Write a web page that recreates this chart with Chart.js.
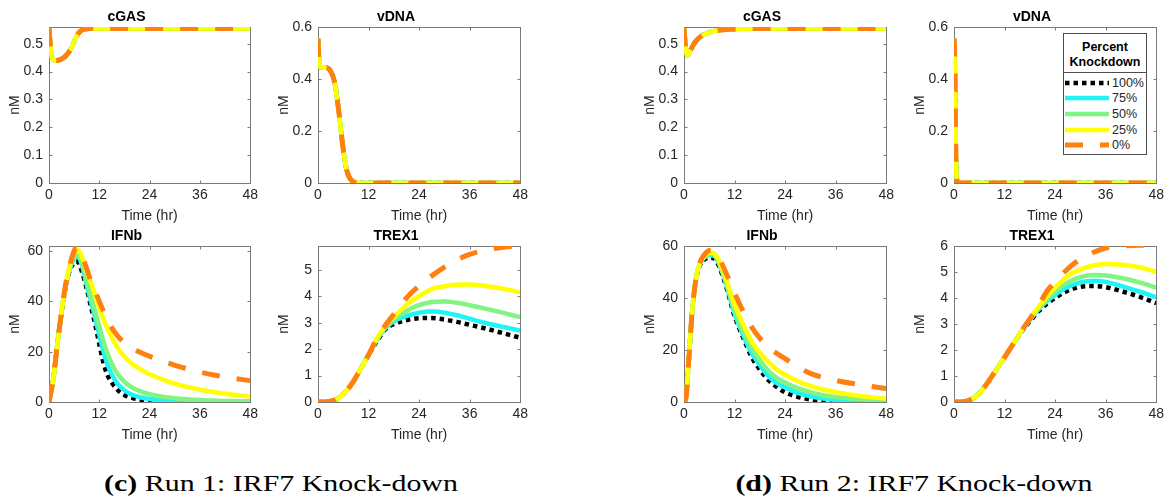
<!DOCTYPE html>
<html>
<head>
<meta charset="utf-8">
<title>IRF7 Knock-down</title>
<script src="https://cdn.jsdelivr.net/npm/chart.js@4.4.1/dist/chart.umd.min.js"></script>
<style>
  body { margin: 0; background: #fff; width: 1169px; height: 500px; position: relative; overflow: hidden;
         font-family: "Liberation Sans", Arial, sans-serif; }
  canvas { position: absolute; }
  .caption { position: absolute; top: 471px; font-family: "Liberation Serif", serif; font-size: 23px; color: #000;
             white-space: nowrap; transform: translateX(-50%) scaleX(1.3); }
  .caption b { font-weight: bold; }
  #legend { position: absolute; left: 1063px; top: 33px; width: 84px; height: 122px; background: #fff;
            border: 1px solid #4d4d4d; box-sizing: border-box; font-size: 12.5px; color: #262626; }
  #legend .ltitle { font-weight: bold; text-align: center; line-height: 15px; padding-top: 6px; height: 32px;
                    border-bottom: 1px solid #4d4d4d; color: #000; }
  #legend .lrow { height: 15.6px; display: flex; align-items: center; padding-left: 1px; }
  #legend .lrow svg { margin-right: 3px; }
  #legend .lrows { padding-top: 2px; }
</style>
</head>
<body>

<canvas id="c1" width="261" height="225" style="left:1px;top:0px"></canvas>
<canvas id="c2" width="262" height="225" style="left:270px;top:0px"></canvas>
<canvas id="c3" width="262" height="225" style="left:636px;top:0px"></canvas>
<canvas id="c4" width="262" height="225" style="left:906px;top:0px"></canvas>
<canvas id="c5" width="261" height="225" style="left:1px;top:219px"></canvas>
<canvas id="c6" width="262" height="225" style="left:270px;top:219px"></canvas>
<canvas id="c7" width="262" height="225" style="left:636px;top:219px"></canvas>
<canvas id="c8" width="262" height="225" style="left:906px;top:219px"></canvas>

<div id="legend">
  <div class="ltitle">Percent<br>Knockdown</div>
  <div class="lrows" id="legendRows"></div>
</div>

<div class="caption" style="left:281px"><b>(c)</b> Run 1: IRF7 Knock-down</div>
<div class="caption" style="left:914px"><b>(d)</b> Run 2: IRF7 Knock-down</div>

<script>
// series: percent knockdown of IRF7
const knockdown = ['100%', '75%', '50%', '25%', '0%'];
const timeTicks = [0, 12, 24, 36, 48];

// ----- Run 1 -----
// top row: all knockdown levels give the same curve
const tCgas1 = [0, 0.3, 0.7, 1.5, 2.5, 3.5, 4.5, 5.5, 6.5, 7.5, 8.5, 10, 48];
const cgas1  = [0.555, 0.50, 0.45, 0.44, 0.442, 0.45, 0.465, 0.49, 0.525, 0.545, 0.552, 0.555, 0.555];

const tVdna1 = [0, 0.3, 0.6, 2, 3, 3.9, 4.9, 5.9, 6.8, 7.5, 8.6, 10, 48];
const vdna1  = [0.555, 0.46, 0.445, 0.443, 0.43, 0.39, 0.28, 0.14, 0.05, 0.02, 0.003, 0, 0];

const tIfnb1 = [0, 1, 2, 3, 4, 5, 6, 6.5, 7, 8, 9, 10, 11, 12, 13, 14, 16, 18, 20, 22, 24, 27, 30, 33, 36, 40, 44, 48];
const ifnb1_100 = [0, 9, 23, 35.5, 46, 52.5, 55.3, 55.8, 55.5, 51, 45, 38, 31, 23, 15.5, 10.5, 5.5, 2.8, 1.6, 0.9, 0.5, 0.2, 0.1, 0, 0, 0, 0, 0];
const ifnb1_75  = [0, 9, 23, 36, 46.5, 53, 57, 57.7, 57.6, 53.5, 46.5, 40, 33.5, 26.5, 20, 14.5, 8, 4.6, 2.8, 1.8, 1.2, 0.7, 0.4, 0.25, 0.15, 0.1, 0.05, 0];
const ifnb1_50  = [0, 9, 23, 36, 46.5, 53.5, 57.5, 58.5, 58.6, 54.5, 48, 42, 36, 30, 24, 19, 12, 8, 5.6, 4.1, 3.1, 2.1, 1.5, 1.1, 0.8, 0.5, 0.35, 0.25];
const ifnb1_25  = [0, 9, 23, 36, 47, 54.5, 59.3, 60.2, 60.3, 57, 52, 47.5, 42.5, 37.5, 33, 29, 22.5, 18, 15, 12.8, 11, 9, 7.3, 6, 4.9, 3.8, 2.9, 2.2];
const ifnb1_0   = [0, 9, 23, 36, 47, 54.5, 60, 61.5, 61.2, 57.5, 53, 48, 44, 40, 36, 32.5, 27, 23.5, 21.3, 19.6, 18.2, 16.3, 14.6, 13.2, 11.9, 10.5, 9.4, 8.5];

const tTrex = [0, 2, 4, 6, 8, 10, 12, 14, 16, 18, 20, 22, 24, 27, 30, 33, 36, 40, 44, 48];
const trex1_100 = [0, 0.01, 0.07, 0.3, 0.68, 1.22, 1.78, 2.3, 2.75, 2.95, 3.06, 3.13, 3.17, 3.18, 3.12, 3.03, 2.92, 2.77, 2.6, 2.43];
const trex1_75  = [0, 0.01, 0.07, 0.3, 0.68, 1.22, 1.78, 2.35, 2.8, 3.05, 3.2, 3.3, 3.38, 3.42, 3.38, 3.28, 3.15, 2.98, 2.84, 2.7];
const trex1_50  = [0, 0.01, 0.07, 0.3, 0.68, 1.22, 1.78, 2.38, 2.84, 3.13, 3.35, 3.53, 3.66, 3.78, 3.8, 3.75, 3.66, 3.52, 3.37, 3.21];
const trex1_25  = [0, 0.01, 0.07, 0.3, 0.68, 1.22, 1.78, 2.42, 2.88, 3.22, 3.52, 3.8, 4.0, 4.27, 4.38, 4.43, 4.44, 4.38, 4.28, 4.15];
const trex1_0   = [0, 0.01, 0.07, 0.3, 0.68, 1.22, 1.78, 2.42, 2.9, 3.32, 3.75, 4.1, 4.4, 4.77, 5.1, 5.38, 5.58, 5.75, 5.85, 5.9];

// ----- Run 2 -----
const tCgas2 = [0, 0.3, 0.8, 1.5, 2.5, 3.5, 5, 6.5, 8, 10, 12, 15, 20, 48];
const cgas2  = [0.555, 0.50, 0.456, 0.475, 0.503, 0.52, 0.535, 0.543, 0.548, 0.551, 0.553, 0.554, 0.555, 0.555];

const tVdna2 = [0, 0.15, 0.3, 0.45, 0.6, 0.8, 1.2, 48];
const vdna2  = [0.555, 0.5, 0.3, 0.1, 0.03, 0.005, 0, 0];

const tIfnb2 = [0, 0.5, 1, 1.5, 2, 3, 4, 5, 6, 7, 8, 10, 12, 14, 16, 18, 20, 22, 24, 27, 30, 33, 36, 40, 44, 48];
const ifnb2_100 = [0, 2, 13, 25, 36, 48.5, 53.3, 55, 55.5, 55.3, 53.3, 44.5, 33, 25, 17.5, 12.5, 8.5, 5.8, 3.7, 2.0, 1.0, 0.5, 0.2, 0.05, 0, 0];
const ifnb2_75  = [0, 2, 13, 25, 36, 49, 53.8, 55.8, 56.5, 56.3, 54.2, 45.5, 34, 26, 19, 14.2, 10, 7.3, 5.7, 3.5, 2.2, 1.3, 0.8, 0.5, 0.3, 0.2];
const ifnb2_50  = [0, 2, 13, 25, 36, 49, 54, 56, 57, 56.8, 54.8, 46, 35.5, 27.5, 21, 16, 12, 9.3, 7.5, 5.3, 3.8, 2.6, 1.9, 1.3, 0.9, 0.7];
const ifnb2_25  = [0, 2, 13, 25, 36, 49, 54, 56.3, 57.5, 57.3, 55.5, 47, 37.5, 30, 23.5, 19, 15.5, 12.5, 10.5, 8, 6.2, 4.8, 3.8, 2.7, 1.9, 1.3];
const ifnb2_0   = [0, 2, 13, 25, 36, 49, 54.5, 57, 58.3, 58, 56.3, 49.5, 42, 35, 29, 24.5, 21, 18.7, 16.7, 13.5, 11, 9.4, 8.3, 7.1, 6.1, 5.2];

const trex2_100 = [0, 0.01, 0.1, 0.33, 0.75, 1.23, 1.72, 2.22, 2.7, 3.1, 3.48, 3.77, 4.0, 4.28, 4.43, 4.46, 4.42, 4.25, 4.05, 3.8];
const trex2_75  = [0, 0.01, 0.1, 0.33, 0.75, 1.23, 1.72, 2.22, 2.71, 3.15, 3.55, 3.87, 4.12, 4.42, 4.6, 4.66, 4.62, 4.45, 4.25, 4.03];
const trex2_50  = [0, 0.01, 0.1, 0.33, 0.75, 1.23, 1.72, 2.22, 2.72, 3.18, 3.6, 3.95, 4.25, 4.6, 4.8, 4.88, 4.87, 4.76, 4.6, 4.4];
const trex2_25  = [0, 0.01, 0.1, 0.33, 0.75, 1.23, 1.72, 2.22, 2.72, 3.2, 3.65, 4.05, 4.4, 4.85, 5.1, 5.25, 5.31, 5.28, 5.18, 5.01];
const trex2_0   = [0, 0.01, 0.1, 0.33, 0.75, 1.23, 1.72, 2.22, 2.72, 3.2, 3.68, 4.25, 4.62, 5.12, 5.5, 5.75, 5.92, 6.0, 6.03, 6.0];

// line look for each knockdown level (same order as knockdown[])
const lineStyles = [
  { color: '#000000', width: 4.5, dash: [4.5, 4] },
  { color: '#1ff5f5', width: 4.5, dash: [] },
  { color: '#82f482', width: 4.5, dash: [] },
  { color: '#ffff00', width: 4.5, dash: [] },
  { color: '#ff7f0f', width: 5,   dash: [18, 17] }
];

const labelFont = { family: 'Liberation Sans', size: 14, lineHeight: '16px' };

// box around the plot with inward tick marks, like matlab axes
const matlabBox = {
  id: 'matlabBox',
  beforeDatasetsDraw(chart) {
    const { ctx, chartArea: a, scales } = chart;
    const L = Math.round(a.left) + 0.5, R = Math.round(a.right) + 0.5;
    const T = Math.round(a.top) + 0.5, B = Math.round(a.bottom) + 0.5;
    ctx.save();
    ctx.strokeStyle = '#7a7a7a';
    ctx.lineWidth = 1;
    ctx.strokeRect(L, T, R - L, B - T);
    ctx.beginPath();
    scales.x.ticks.forEach(t => {
      const px = Math.round(scales.x.getPixelForValue(t.value)) + 0.5;
      ctx.moveTo(px, B); ctx.lineTo(px, B - 3);
      ctx.moveTo(px, T); ctx.lineTo(px, T + 3);
    });
    scales.y.ticks.forEach(t => {
      const py = Math.round(scales.y.getPixelForValue(t.value)) + 0.5;
      ctx.moveTo(L, py); ctx.lineTo(L + 3, py);
      ctx.moveTo(R, py); ctx.lineTo(R - 3, py);
    });
    ctx.stroke();
    ctx.restore();
  }
};

function toPoints(times, values) {
  return values.map((v, i) => ({ x: times[i], y: v }));
}

function makePanel(canvasId, title, times, series, yMax, yStep) {
  const datasets = series.map((vals, i) => ({
    label: knockdown[i],
    data: toPoints(times, vals),
    borderColor: lineStyles[i].color,
    borderWidth: lineStyles[i].width,
    borderDash: lineStyles[i].dash,
    borderCapStyle: 'butt',
    pointRadius: 0,
    fill: false,
    cubicInterpolationMode: 'monotone',
    order: series.length - 1 - i   // 0% drawn last, on top
  }));

  return new Chart(document.getElementById(canvasId), {
    type: 'line',
    data: { datasets },
    options: {
      responsive: false,
      animation: false,
      devicePixelRatio: 1,
      layout: { padding: { left: 0, right: 10, top: 0, bottom: 0 } },
      plugins: {
        legend: { display: false },
        tooltip: { enabled: false },
        title: {
          display: true,
          text: title,
          color: '#000',
          font: { family: 'Liberation Sans', size: 14, weight: 'bold', lineHeight: '16px' },
          padding: { top: 9, bottom: 2 }
        }
      },
      scales: {
        x: {
          type: 'linear',
          min: 0,
          max: 48,
          afterBuildTicks: s => { s.ticks = timeTicks.map(v => ({ value: v })); },
          afterFit: s => { s.height = 42; },
          grid: { display: false, drawTicks: false },
          border: { display: false },
          ticks: { color: '#262626', padding: 4, font: labelFont },
          title: { display: true, text: 'Time (hr)', color: '#262626', font: labelFont,
                   padding: { top: 0, bottom: 1 } }
        },
        y: {
          min: 0,
          max: yMax,
          afterFit: s => { s.width = 48; },
          grid: { display: false, drawTicks: false },
          border: { display: false },
          ticks: { stepSize: yStep, includeBounds: false, color: '#262626', padding: 6, font: labelFont },
          title: { display: true, text: 'nM', color: '#262626', font: labelFont,
                   padding: { top: 6, bottom: 0 } }
        }
      }
    },
    plugins: [matlabBox]
  });
}

const same = arr => [arr, arr, arr, arr, arr];

// run 1 (c)
makePanel('c1', 'cGAS', tCgas1, same(cgas1), 0.56, 0.1);
makePanel('c2', 'vDNA', tVdna1, same(vdna1), 0.6, 0.2);
makePanel('c5', 'IFNb', tIfnb1, [ifnb1_100, ifnb1_75, ifnb1_50, ifnb1_25, ifnb1_0], 62, 20);
makePanel('c6', 'TREX1', tTrex, [trex1_100, trex1_75, trex1_50, trex1_25, trex1_0], 5.9, 1);

// run 2 (d)
makePanel('c3', 'cGAS', tCgas2, same(cgas2), 0.56, 0.1);
makePanel('c4', 'vDNA', tVdna2, same(vdna2), 0.6, 0.2);
makePanel('c7', 'IFNb', tIfnb2, [ifnb2_100, ifnb2_75, ifnb2_50, ifnb2_25, ifnb2_0], 60, 20);
makePanel('c8', 'TREX1', tTrex, [trex2_100, trex2_75, trex2_50, trex2_25, trex2_0], 6, 1);

// legend inside the run 2 vDNA panel
const legendRows = document.getElementById('legendRows');
knockdown.forEach((lab, i) => {
  const s = lineStyles[i];
  const row = document.createElement('div');
  row.className = 'lrow';
  row.innerHTML = '<svg width="44" height="8"><line x1="0" y1="4" x2="44" y2="4" stroke="' + s.color +
    '" stroke-width="' + s.width + '" stroke-dasharray="' + (s.dash.length ? s.dash.join(' ') : 'none') +
    '"/></svg><span>' + lab + '</span>';
  legendRows.appendChild(row);
});
</script>
</body>
</html>
